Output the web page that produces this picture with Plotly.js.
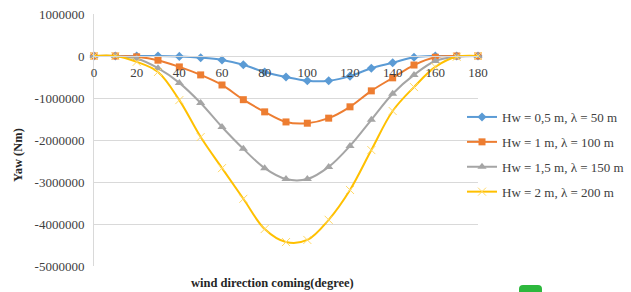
<!DOCTYPE html>
<html><head><meta charset="utf-8">
<script src="https://cdn.plot.ly/plotly-3.0.1.min.js"></script>
<style>html,body{margin:0;padding:0;background:#fff}#c{width:631px;height:292px}</style>
</head><body><div id="c"></div>
<script>
const windDir = [0,10,20,30,40,50,60,70,80,90,100,110,120,130,140,150,160,170,180];
const yawHw05 = [0,0,0,0,-10000,-40000,-95000,-210000,-380000,-500000,-590000,-590000,-480000,-290000,-160000,-30000,0,0,0];
const yawHw1 = [0,0,-20000,-100000,-260000,-450000,-690000,-1040000,-1330000,-1570000,-1600000,-1480000,-1210000,-830000,-520000,-215000,-30000,0,0];
const yawHw15 = [0,0,-60000,-290000,-640000,-1120000,-1690000,-2210000,-2670000,-2930000,-2930000,-2640000,-2140000,-1520000,-900000,-450000,-120000,-20000,0];
const yawHw2 = [0,0,-140000,-380000,-1050000,-1930000,-2670000,-3400000,-4120000,-4430000,-4380000,-3900000,-3190000,-2240000,-1310000,-740000,-260000,-20000,0];
const seriesNames = ["Hw = 0,5 m, λ = 50 m","Hw = 1 m, λ = 100 m","Hw = 1,5 m, λ = 150 m","Hw = 2 m, λ = 200 m"];
const xTickVals = [0,20,40,60,80,100,120,140,160,180];
const xTickText = ["0","20","40","60","80","100","120","140","160","180"];
const yTickVals = [1000000,0,-1000000,-2000000,-3000000,-4000000,-5000000];
const yTickText = ["1000000","0","-1000000","-2000000","-3000000","-4000000","-5000000"];

const W=631,H=292,L=94,R=478,T=14,B=266;
const serif = "Liberation Serif, Times New Roman, serif";
const styles = [
  {color:"#5B9BD5", marker:{symbol:"diamond", size:7, color:"#5B9BD5"}},
  {color:"#ED7D31", marker:{symbol:"square", size:7, color:"#ED7D31"}},
  {color:"#A5A5A5", marker:{symbol:"triangle-up", size:8, color:"#A5A5A5"}},
  {color:"#FFC000", marker:{symbol:"x-thin", size:8, color:"#FFD966", line:{color:"#FFD966", width:1}}}
];
const ys = [yawHw05,yawHw1,yawHw15,yawHw2];
const data = ys.map((y,i)=>({
  x: windDir, y: y, name: seriesNames[i], type:"scatter", mode:"lines+markers",
  line:{color:styles[i].color, width:2, shape:"spline", smoothing:1},
  marker:styles[i].marker, cliponaxis:false, legendgroup:"g"+i
}));
const px = v => (v-L)/(R-L);
const py = v => (B-v)/(B-T);
const layout = {
  width:W, height:H, margin:{l:L, r:W-R, t:T, b:H-B, autoexpand:false},
  paper_bgcolor:"#fff", plot_bgcolor:"#fff",
  font:{family:serif, size:13, color:"#404040"},
  showlegend:true,
  legend:{x:px(462), y:py(102), xanchor:"left", yanchor:"top", font:{family:serif,size:13,color:"#404040"}, tracegroupgap:5, bgcolor:"rgba(0,0,0,0)"},
  xaxis:{range:[0,180], tickvals:xTickVals, ticktext:xTickText, anchor:"free", position:5/6,
    showgrid:false, zeroline:false, showline:true, linecolor:"#D9D9D9", linewidth:1, ticks:"", ticklabelstandoff:4,
    tickfont:{family:serif,size:13,color:"#404040"}},
  yaxis:{range:[-5000000,1000000], tickvals:yTickVals, ticktext:yTickText, showgrid:true, gridcolor:"#D9D9D9", gridwidth:1,
    zeroline:false, showline:true, linecolor:"#D9D9D9", ticks:"", ticklabelstandoff:6,
    tickfont:{family:serif,size:13,color:"#404040"}},
  annotations:[
    {text:"<b>wind direction coming(degree)</b>", xref:"paper", yref:"paper", x:px(272), y:py(283), xanchor:"center", yanchor:"middle", showarrow:false, font:{family:serif,size:12.5,color:"#262626"}},
    {text:"<b>Yaw (Nm)</b>", xref:"paper", yref:"paper", x:px(18), y:py(155), xanchor:"center", yanchor:"middle", textangle:-90, showarrow:false, font:{family:serif,size:12.5,color:"#262626"}}
  ],
  shapes:[
    {type:"path", xref:"paper", yref:"paper", path:"M "+px(519)+","+py(292)+" L "+px(519)+","+py(289)+" Q "+px(519)+","+py(285)+" "+px(523)+","+py(285)+" L "+px(538)+","+py(285)+" Q "+px(542)+","+py(285)+" "+px(542)+","+py(289)+" L "+px(542)+","+py(292)+" Z", fillcolor:"#2DB83D", line:{width:0}}
  ]
};
Plotly.newPlot("c", data, layout, {staticPlot:true, displayModeBar:false});
</script></body></html>
